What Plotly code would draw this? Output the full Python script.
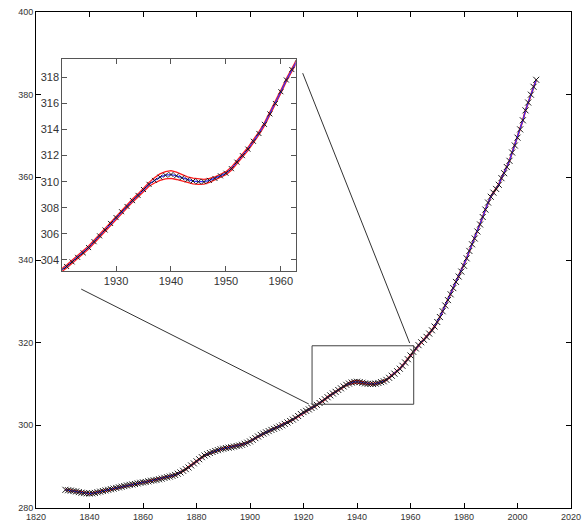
import plotly.graph_objects as go

# Annual atmospheric CO2 (ppm), 1831-2007
years = list(range(1831, 2008))
co2 = [
    284.4, 284.3, 284.2, 284.1, 284.0, 283.85, 283.7, 283.6, 283.55,            # 1831-1839
    283.5, 283.55, 283.65, 283.8, 283.95, 284.1, 284.25, 284.4, 284.55, 284.7,   # 1840-1849
    284.85, 285.0, 285.15, 285.3, 285.45, 285.6, 285.7, 285.8, 285.95, 286.1,    # 1850-1859
    286.2, 286.3, 286.45, 286.6, 286.7, 286.8, 286.95, 287.1, 287.3, 287.45,     # 1860-1869
    287.6, 287.8, 288.0, 288.3, 288.6, 289.0, 289.4, 289.8, 290.3, 290.8,        # 1870-1879
    291.3, 291.8, 292.3, 292.7, 293.0, 293.3, 293.55, 293.8, 294.0, 294.2,       # 1880-1889
    294.35, 294.5, 294.6, 294.7, 294.85, 295.0, 295.1, 295.3, 295.55, 295.8,     # 1890-1899
    296.1, 296.5, 296.9, 297.3, 297.7, 298.0, 298.3, 298.6, 298.9, 299.15,       # 1900-1909
    299.45, 299.7, 300.0, 300.35, 300.7, 301.05, 301.4, 301.8, 302.25, 302.75,   # 1910-1919
    303.2, 303.5, 303.85, 304.2, 304.55, 304.95, 305.4, 305.85, 306.3, 306.8,    # 1920-1929
    307.25, 307.7, 308.1, 308.55, 308.95, 309.4, 309.8, 310.1, 310.35, 310.5,    # 1930-1939
    310.55, 310.45, 310.3, 310.15, 310.05, 310.0, 310.0, 310.1, 310.25, 310.45,  # 1940-1949
    310.65, 311.0, 311.5, 312.0, 312.5, 313.1, 313.7, 314.4, 315.2, 316.0,       # 1950-1959
    316.9, 317.8, 318.6, 319.4, 320.1, 320.7, 321.4, 322.2, 323.0, 323.9,        # 1960-1969
    325.0, 326.2, 327.6, 329.0, 330.3, 331.7, 333.2, 334.7, 336.0, 337.2,        # 1970-1979
    338.6, 340.4, 342.2, 343.8, 345.2, 346.9, 348.6, 350.4, 352.2, 353.9,        # 1980-1989
    355.3, 356.3, 357.2, 358.2, 359.8, 361.0, 362.5, 364.0, 366.0, 367.7,        # 1990-1999
    369.6, 371.6, 373.8, 376.2, 378.1, 380.0, 381.9, 383.6,                      # 2000-2007
]
# half-width of the uncertainty envelope around the fitted curve (ppm)
band_years = [1936, 1937, 1938, 1939, 1940, 1941, 1942, 1943, 1944, 1945, 1946, 1947]
band_wide = [0.15, 0.2, 0.25, 0.28, 0.3, 0.28, 0.25, 0.22, 0.22, 0.2, 0.18, 0.15]
band_default = 0.12

main_xticks = list(range(1820, 2021, 20))
main_yticks = list(range(280, 401, 20))
inset_xticks = [1930, 1940, 1950, 1960]
inset_yticks = list(range(304, 319, 2))

main_xrange = [1820, 2020]
main_yrange = [280, 400]
inset_xrange = [1920.2, 1962.7]
inset_yrange = [303.16, 319.4]
zoom_box_x = [1923.2, 1961.2]
zoom_box_y = [305.1, 319.25]

band = [band_wide[band_years.index(y)] if y in band_years else band_default
        for y in years]
upper = [v + b for v, b in zip(co2, band)]
lower = [v - b for v, b in zip(co2, band)]

fig = go.Figure()


def add_series(xa, ya, marker_size, line_w):
    fig.add_trace(go.Scatter(x=years, y=upper, mode="lines", xaxis=xa, yaxis=ya,
                             line=dict(color="#ff1a1a", width=line_w),
                             hoverinfo="skip", showlegend=False))
    fig.add_trace(go.Scatter(x=years, y=lower, mode="lines", xaxis=xa, yaxis=ya,
                             line=dict(color="#ff1a1a", width=line_w),
                             hoverinfo="skip", showlegend=False))
    fig.add_trace(go.Scatter(x=years, y=co2, mode="lines", xaxis=xa, yaxis=ya,
                             line=dict(color="#3333ff", width=1.2),
                             showlegend=False))
    fig.add_trace(go.Scatter(x=years, y=co2, mode="markers", xaxis=xa, yaxis=ya,
                             marker=dict(symbol="x-thin", size=marker_size,
                                         color="black",
                                         line=dict(color="#1a1a1a", width=1)),
                             showlegend=False))


add_series("x", "y", 6, 1.5)
add_series("x2", "y2", 5, 1.3)

axis_common = dict(showgrid=False, zeroline=False, showline=True,
                   ticks="inside", mirror="allticks", ticklen=5, tickwidth=1,
                   automargin=False)

fig.update_layout(
    width=583, height=527,
    margin=dict(l=36, r=12, t=12, b=19),
    paper_bgcolor="white", plot_bgcolor="white",
    font=dict(family="Liberation Sans, Arial, sans-serif", color="#333333"),
    xaxis=dict(domain=[0, 1], range=main_xrange, tickvals=main_xticks,
               linecolor="black", tickcolor="black",
               tickfont=dict(size=9), **axis_common),
    yaxis=dict(domain=[0, 1], range=main_yrange, tickvals=main_yticks,
               linecolor="black", tickcolor="black",
               tickfont=dict(size=9), **axis_common),
    xaxis2=dict(domain=[0.049, 0.4854], range=inset_xrange,
                tickvals=inset_xticks, anchor="y2",
                linecolor="#555555", tickcolor="#555555",
                tickfont=dict(size=11), **axis_common),
    yaxis2=dict(domain=[0.478, 0.905], range=inset_yrange,
                tickvals=inset_yticks, anchor="x2",
                linecolor="#555555", tickcolor="#555555",
                tickfont=dict(size=11), **axis_common),
)

# zoom window on the main axes and its connector lines to the inset
fig.add_shape(type="rect", xref="x", yref="y",
              x0=zoom_box_x[0], x1=zoom_box_x[1],
              y0=zoom_box_y[0], y1=zoom_box_y[1],
              line=dict(color="#404040", width=1))
fig.add_shape(type="line", xref="x", yref="y",
              x0=1836.9, y0=332.96, x1=1922.0, y1=305.15,
              line=dict(color="#333333", width=1))
fig.add_shape(type="line", xref="x", yref="y",
              x0=1919.7, y0=385.2, x1=1959.7, y1=319.9,
              line=dict(color="#333333", width=1))

fig.write_html("out.html")
